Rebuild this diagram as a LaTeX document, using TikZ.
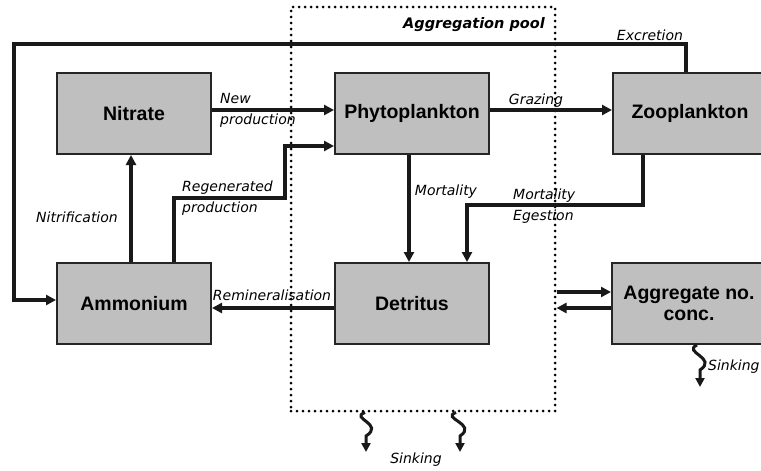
\documentclass[tikz,border=0pt]{standalone}
\usepackage{fontspec}
\setmainfont{Liberation Sans}
\newfontfamily\notefont{DejaVu Sans}
\usetikzlibrary{arrows.meta}
\definecolor{boxgray}{RGB}{191,191,191}
\tikzset{
  pool/.style={draw, line width=3pt, dash pattern=on 0pt off 6pt, line cap=round, minimum width=264pt, minimum height=404pt, inner sep=0pt},
  compartment/.style={rectangle, draw=black!85, fill=boxgray, line width=2pt, minimum width=154pt, minimum height=81pt, inner sep=0pt, align=center, font=\fontsize{19.5}{21}\selectfont\bfseries},
  flux/.style={-{Triangle[length=10pt,width=10pt]}, line width=3.2pt, draw=black!90},
  sink/.style={-{Triangle[length=9pt,width=9pt]}, line width=3pt, draw=black!90},
  rate/.style={font=\notefont\itshape\fontsize{14}{21}\selectfont, inner sep=0pt, align=left},
  poolname/.style={font=\notefont\bfseries\itshape\fontsize{14.5}{17}\selectfont, inner sep=0pt}
}

\begin{document}
\begin{tikzpicture}[x=1pt, y=-1pt]
  \useasboundingbox (0,0) rectangle (761,471);

  \node[pool] (pool) at (423,209) {};
  \node[poolname] (poolname) at (474,25) {Aggregation pool};

  \node[compartment] (nit) at (134,113.5) {Nitrate};
  \node[compartment] (amm) at (134,303.5) {Ammonium};
  \node[compartment] (phy) at (412,113.5) {Phytoplankton};
  \node[compartment] (zoo) at (690,113.5) {Zooplankton};
  \node[compartment] (det) at (412,303.5) {Detritus};
  \node[compartment] (agg) at (689,303.5) {Aggregate no.\\conc.};

  \coordinate (zd) at (467,205);

  \draw[flux] ([yshift=3.5pt]nit.east) -- ([yshift=3.5pt]phy.west);
  \draw[flux] ([xshift=40pt]amm.north) |- (285,198) |- ([yshift=-32.5pt]phy.west);
  \draw[flux] ([xshift=-3pt]amm.north) -- ([xshift=-3pt]nit.south);
  \draw[flux] ([yshift=3.5pt]phy.east) -- ([yshift=3.5pt]zoo.west);
  \draw[flux] ([xshift=-3pt]phy.south) -- ([xshift=-3pt]det.north);
  \draw[flux] ([xshift=-47pt]zoo.south) |- (zd) -- (zd |- det.north);
  \draw[flux] ([yshift=-4.5pt]det.west) -- ([yshift=-4.5pt]amm.east);
  \draw[flux] ([xshift=-4pt]zoo.north) |- (14,44) |- ([yshift=3.5pt]amm.west);
  \draw[flux] (pool.east |- 0,292) -- (agg.west |- 0,292);
  \draw[flux] (agg.west |- 0,308) -- (pool.east |- 0,308);

  % sinking losses
  \draw[sink] (365,0 |- pool.south) .. controls (349,418) and (385,424) .. (366,436) -- (366,452);
  \draw[sink] (456,0 |- pool.south) .. controls (440,418) and (478,424) .. (460,436) -- (460,452);
  \draw[sink] (697,0 |- agg.south) .. controls (682,352) and (718,358) .. (700,370) -- (700,387);

  \node[rate, anchor=west] (newprod) at (220,110) {New\\production};
  \node[rate, anchor=west] (regprod) at (182,198.5) {Regenerated\\production};
  \node[rate] (nitrif) at (77,217) {Nitrification};
  \node[rate] (grazing) at (536,101) {Grazing};
  \node[rate] (phymort) at (446,192) {Mortality};
  \node[rate, anchor=west] (zoomort) at (513,206) {Mortality\\Egestion};
  \node[rate] (remin) at (272,295) {Remineralisation};
  \node[rate] (excr) at (650,35) {Excretion};
  \node[rate] (poolsink) at (416,460) {Sinking};
  \node[rate, anchor=west] (aggsink) at (708,367) {Sinking};
\end{tikzpicture}
\end{document}
